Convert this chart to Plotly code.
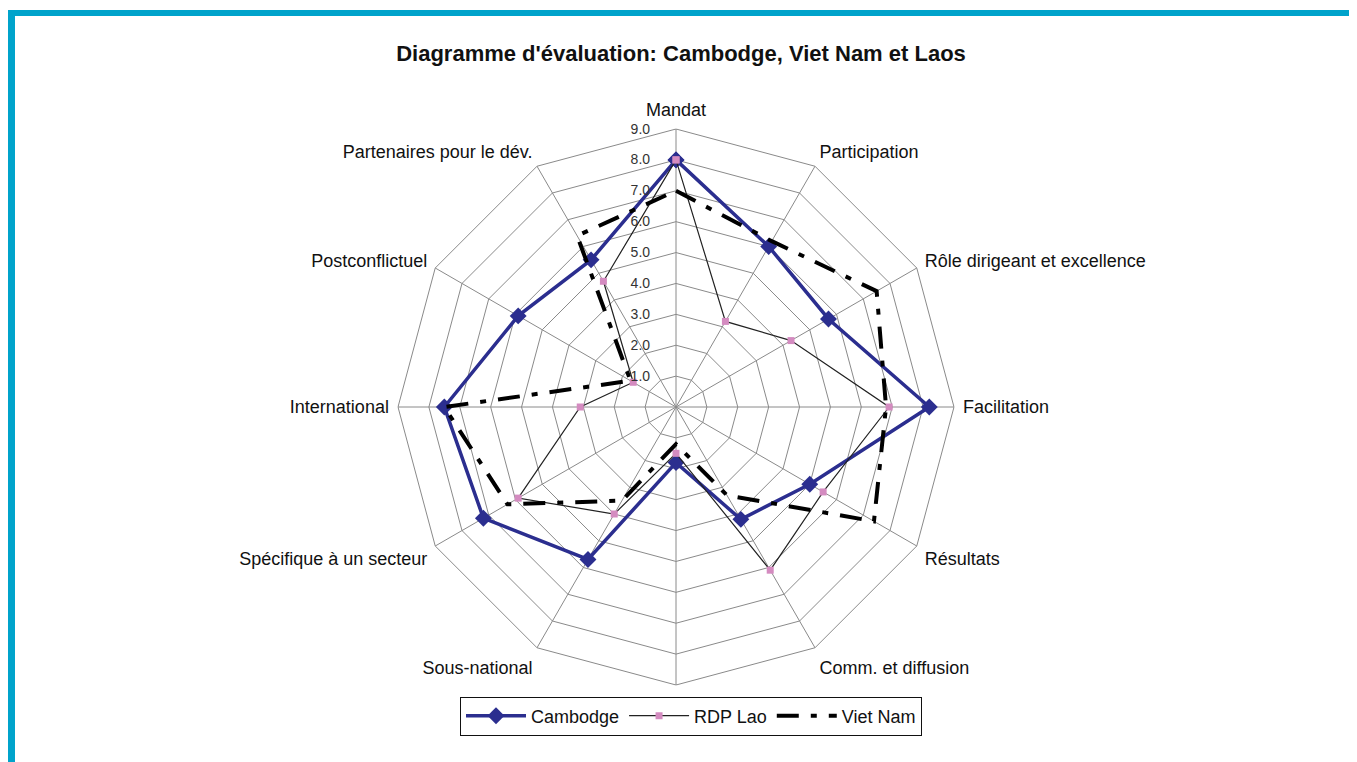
import plotly.graph_objects as go

categories = ["Mandat", "Participation", "Rôle dirigeant et excellence", "Facilitation",
              "Résultats", "Comm. et diffusion", " ", "Sous-national",
              "Spécifique à un secteur", "International", "Postconflictuel",
              "Partenaires pour le dév."]
cambodge = [8.0, 6.0, 5.7, 8.2, 5.0, 4.2, 1.8, 5.7, 7.2, 7.5, 5.9, 5.5]
rdp_lao = [8.0, 3.2, 4.3, 6.9, 5.5, 6.1, 1.5, 4.0, 5.9, 3.1, 1.6, 4.7]
viet_nam = [7.0, 6.2, 7.5, 6.8, 7.4, 3.3, 1.2, 3.5, 6.3, 7.5, 1.7, 6.4]
radial_ticks = [1, 2, 3, 4, 5, 6, 7, 8, 9]
radial_labels = ["1.0", "2.0", "3.0", "4.0", "5.0", "6.0", "7.0", "8.0", "9.0"]

W, H = 1357, 762
OX, OY = 8, 8  # page body margin


def px(x):
    return (x - OX) / W


def py(y):
    return 1 - (y - OY) / H


def closed(v):
    return list(v) + [v[0]]


PAD = "\u00a0" * 6

fig = go.Figure()
fig.add_trace(go.Scatterpolar(
    r=closed(cambodge), theta=closed(categories), name="Cambodge",
    mode="lines+markers",
    line=dict(color="#2B2E8F", width=3.5),
    marker=dict(symbol="diamond", size=13, color="#2B2E8F"),
))
fig.add_trace(go.Scatterpolar(
    r=closed(rdp_lao), theta=closed(categories), name="RDP Lao",
    mode="lines+markers",
    line=dict(color="#222222", width=1.2),
    marker=dict(symbol="square", size=7, color="#D48BC0"),
))
fig.add_trace(go.Scatterpolar(
    r=closed(viet_nam), theta=closed(categories), name="Viet Nam",
    mode="lines",
    line=dict(color="#000000", width=4, dash="22px,12px,6px,12px"),
))

cx, cy, R = 676, 407, 278
fig.update_layout(
    width=W, height=H,
    margin=dict(l=0, r=0, t=0, b=0),
    paper_bgcolor="white",
    font=dict(family="Liberation Sans, Arial, sans-serif", size=18, color="#111111"),
    title=dict(text="<b>Diagramme d'évaluation: Cambodge, Viet Nam et Laos</b>",
               x=px(681), xanchor="center", y=py(53), yanchor="middle",
               font=dict(size=22, color="#111111")),
    polar=dict(
        domain=dict(x=[px(cx - R), px(cx + R)], y=[py(cy + R), py(cy - R)]),
        bgcolor="white",
        gridshape="linear",
        angularaxis=dict(direction="clockwise", rotation=90,
                         gridcolor="#8a8a8a", gridwidth=1,
                         linecolor="#8a8a8a", linewidth=1,
                         ticks="outside", ticklen=5, tickcolor="white",
                         tickfont=dict(size=18, color="#111111")),
        radialaxis=dict(range=[0, 9], angle=90, tickangle=90, side="counterclockwise",
                        tickvals=radial_ticks, ticktext=[t + PAD for t in radial_labels],
                        gridcolor="#8a8a8a", gridwidth=1,
                        showline=False, ticks="",
                        tickfont=dict(size=14, color="#333333")),
    ),
    legend=dict(orientation="h", x=px(691), xanchor="center", y=py(716), yanchor="middle",
                bordercolor="#111111", borderwidth=1, bgcolor="white",
                font=dict(size=18), itemwidth=60),
    showlegend=True,
    shapes=[
        dict(type="rect", xref="paper", yref="paper", x0=px(8), x1=1.0,
             y0=py(16), y1=py(10), fillcolor="#00A3CB", line=dict(width=0)),
        dict(type="rect", xref="paper", yref="paper", x0=px(8), x1=px(15),
             y0=0, y1=py(10), fillcolor="#00A3CB", line=dict(width=0)),
    ],
)

fig.write_html("out.html")
